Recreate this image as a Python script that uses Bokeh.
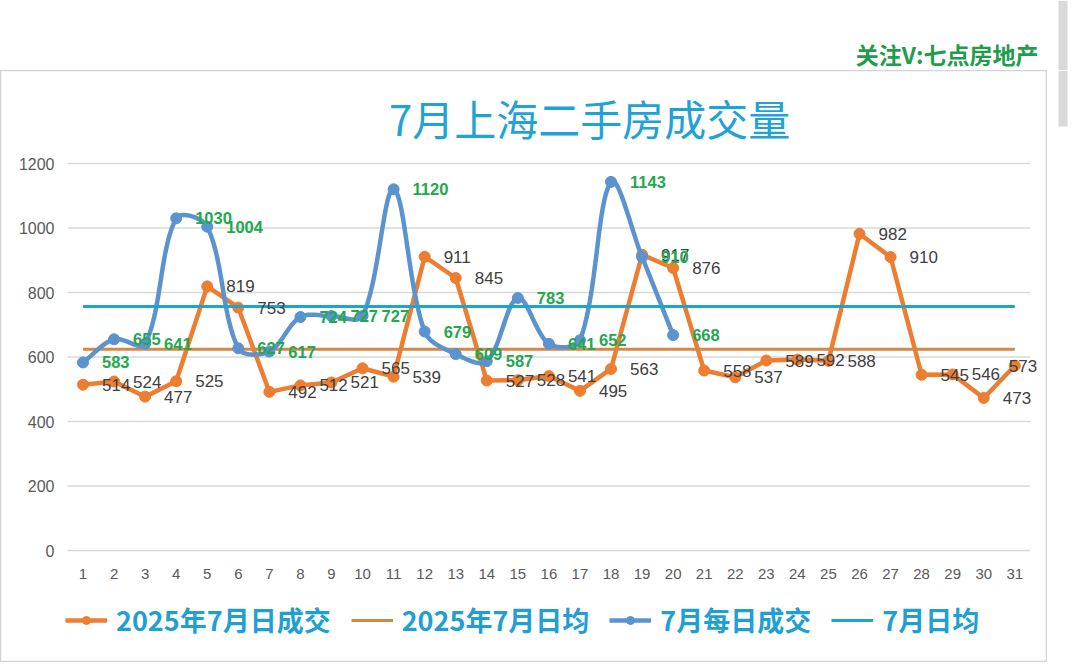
import numpy as np
from bokeh.plotting import figure
from bokeh.layouts import column, row
from bokeh.models import (ColumnDataSource, Range1d, FixedTicker, LabelSet, Label,
                          Legend, LegendItem)
from bokeh.core.properties import value
from bokeh.embed import file_html
from bokeh.resources import INLINE

# ---------------- data ----------------
days_2025 = list(range(1, 32))
sales_2025 = [514, 524, 477, 525, 819, 753, 492, 512, 521, 565, 539, 911, 845, 527, 528,
              541, 495, 563, 917, 876, 558, 537, 589, 592, 588, 982, 910, 545, 546, 473, 573]
days_july = list(range(1, 21))
sales_july = [583, 655, 641, 1030, 1004, 627, 617, 724, 727, 727, 1120, 679, 609, 587, 783,
              641, 652, 1143, 910, 668]
x_ticks = list(range(1, 32))
y_ticks = [0, 200, 400, 600, 800, 1000, 1200]

title_text = "7月上海二手房成交量"
watermark_text = "关注V:七点房地产"
legend_labels = ["2025年7月日成交", "2025年7月日均", "7月每日成交", "7月日均"]

# ---------------- colours ----------------
C_ORANGE = "#ed7d31"
C_ORANGE_AVG = "#d68744"
C_BLUE = "#5b93cf"
C_CYAN = "#1ba7cc"
C_GREEN = "#22a84f"
C_GREY_LBL = "#404040"
C_AXIS = "#595959"
C_TITLE = "#1fa3d5"
C_LEGEND = "#1f9fd2"
C_GRID = "#d9d9d9"
C_BORDER = "#d4d4d4"
C_SCROLL = "#d9d9d9"

# ---------------- geometry (pixels) ----------------
HEAD_H = 70                 # header strip (watermark) height
MAIN_W, MAIN_H = 1047, 592  # bordered chart box
SIDE_W = 25
PX_PER_DAY = 31.06
PX_PER_UNIT = 387.0 / 1200.0
DAY1_SX = 82.5              # screen x of the first category inside the box
ZERO_SY = 480.0             # screen y (from box top) of value 0
LABEL_DX = 19               # data-label gap to the right of a point

X_LO = x_ticks[0] - DAY1_SX / PX_PER_DAY
X_HI = X_LO + MAIN_W / PX_PER_DAY
Y_HI = ZERO_SY / PX_PER_UNIT
Y_LO = -(MAIN_H - ZERO_SY) / PX_PER_UNIT


def smooth(xs, ys, sx_scale, sy_scale, n=30):
    """Spreadsheet-like smoothed line: cubic Bezier, chord-length weighted tangents."""
    P = np.column_stack([np.asarray(xs, float), np.asarray(ys, float)])
    S = P * np.array([sx_scale, sy_scale])
    out = []
    m = len(P)
    for i in range(m - 1):
        i0 = max(i - 1, 0)
        i3 = min(i + 2, m - 1)
        d01 = np.linalg.norm(S[i] - S[i0])
        d12 = np.linalg.norm(S[i + 1] - S[i])
        d23 = np.linalg.norm(S[i3] - S[i + 1])
        f1 = d12 / (d01 + d12) if (d01 + d12) > 0 else 0.5
        f2 = d12 / (d12 + d23) if (d12 + d23) > 0 else 0.5
        c1 = P[i] + (P[i + 1] - P[i0]) * f1 / 3.0
        c2 = P[i + 1] - (P[i3] - P[i]) * f2 / 3.0
        t = np.linspace(0, 1, n, endpoint=(i == m - 2))[:, None]
        seg = ((1 - t) ** 3 * P[i] + 3 * (1 - t) ** 2 * t * c1
               + 3 * (1 - t) * t ** 2 * c2 + t ** 3 * P[i + 1])
        out.append(seg)
    arr = np.vstack(out)
    return arr[:, 0], arr[:, 1]


# ================= header (watermark + scrollbar) =================
head = figure(width=MAIN_W + SIDE_W, height=HEAD_H, output_backend="svg", toolbar_location=None,
              x_range=Range1d(0, MAIN_W + SIDE_W), y_range=Range1d(HEAD_H, 0),
              min_border=0)
head.axis.visible = False
head.grid.visible = False
head.outline_line_color = None
head.add_layout(Label(x=1038, y=53, text=watermark_text, text_align="right", text_baseline="middle",
                      text_font="Noto Sans CJK SC", text_font_size="23px", text_font_style="bold",
                      text_color="#1f9c4c"))
head.quad(left=[1058], right=[1067], top=[0], bottom=[HEAD_H], fill_color=C_SCROLL, line_color=None)

# ================= side strip (rest of scrollbar) =================
side = figure(width=SIDE_W, height=MAIN_H, output_backend="svg", toolbar_location=None,
              x_range=Range1d(0, SIDE_W), y_range=Range1d(MAIN_H, 0), min_border=0)
side.axis.visible = False
side.grid.visible = False
side.outline_line_color = None
side.quad(left=[11], right=[20], top=[0], bottom=[56], fill_color=C_SCROLL, line_color=None)

# ================= main chart (frame = whole bordered box) =================
p = figure(width=MAIN_W, height=MAIN_H, output_backend="svg", toolbar_location=None,
           x_range=Range1d(X_LO, X_HI), y_range=Range1d(Y_LO, Y_HI), min_border=0)
p.outline_line_color = C_BORDER
p.outline_line_width = 1.5
p.background_fill_color = "white"
p.border_fill_color = "white"

p.xaxis.ticker = FixedTicker(ticks=x_ticks)
p.yaxis.ticker = FixedTicker(ticks=y_ticks)
p.xaxis.fixed_location = y_ticks[0]
p.yaxis.fixed_location = x_ticks[0] - 0.5
for ax in (p.xaxis, p.yaxis):
    ax.axis_line_color = None
    ax.major_tick_line_color = None
    ax.minor_tick_line_color = None
    ax.major_label_text_font = "Liberation Sans"
    ax.major_label_text_color = C_AXIS
p.xaxis.major_label_text_font_size = "15px"
p.yaxis.major_label_text_font_size = "16px"
p.xaxis.major_label_standoff = 12
p.yaxis.major_label_standoff = 7
p.grid.visible = False

# horizontal gridlines over the category span
p.segment(x0=[x_ticks[0] - 0.5] * len(y_ticks), x1=[x_ticks[-1] + 0.5] * len(y_ticks),
          y0=y_ticks, y1=y_ticks, line_color=C_GRID, line_width=1.5)

# series 1: 2025 daily (straight)
dx25 = [LABEL_DX] * len(days_2025)
dx25[-1] = -6         # last label is pulled back inside the box
src25 = ColumnDataSource(dict(x=days_2025, y=sales_2025, t=[str(v) for v in sales_2025], dx=dx25))
l1 = p.line("x", "y", source=src25, line_color=C_ORANGE, line_width=4.5)
s1 = p.scatter("x", "y", source=src25, size=11, fill_color=C_ORANGE, line_color=C_ORANGE)

# series 2: 2025 average
avg_2025 = float(np.mean(sales_2025))
l2 = p.line([days_2025[0], days_2025[-1]], [avg_2025, avg_2025], line_color=C_ORANGE_AVG, line_width=3)

# series 3: July daily (smoothed)
bx, by = smooth(days_july, sales_july, PX_PER_DAY, PX_PER_UNIT)
l3 = p.line(bx, by, line_color=C_BLUE, line_width=4.5)
srcjl = ColumnDataSource(dict(x=days_july, y=sales_july, t=[str(v) for v in sales_july]))
s3 = p.scatter("x", "y", source=srcjl, size=11, fill_color=C_BLUE, line_color=C_BLUE)

# series 4: July average
avg_july = float(np.mean(sales_july))
l4 = p.line([days_2025[0], days_2025[-1]], [avg_july, avg_july], line_color=C_CYAN, line_width=3)

# data labels
p.add_layout(LabelSet(x="x", y="y", text="t", source=src25, x_offset="dx", y_offset=0,
                      text_align="left", text_baseline="middle",
                      text_font=value("Liberation Sans"), text_font_size=value("17px"),
                      text_color=C_GREY_LBL))
p.add_layout(LabelSet(x="x", y="y", text="t", source=srcjl, x_offset=LABEL_DX, y_offset=0,
                      text_align="left", text_baseline="middle",
                      text_font=value("Liberation Sans"), text_font_size=value("16.5px"),
                      text_font_style="bold", text_color=C_GREEN))

# title
p.add_layout(Label(x=17.31, y=1343, text=title_text, text_align="center", text_baseline="middle",
                   text_font="Noto Sans CJK SC", text_font_size="42px", text_color=C_TITLE))

# legend (inside the box, under the axis)
legend = Legend(items=[LegendItem(label=legend_labels[0], renderers=[l1, s1]),
                       LegendItem(label=legend_labels[1], renderers=[l2]),
                       LegendItem(label=legend_labels[2], renderers=[l3, s3]),
                       LegendItem(label=legend_labels[3], renderers=[l4])],
                location=(65, 23), orientation="horizontal",
                glyph_width=42, glyph_height=20, label_standoff=9, spacing=20,
                padding=0, margin=0, border_line_color=None, background_fill_alpha=0,
                label_text_font="Noto Sans CJK SC", label_text_font_size="27px",
                label_text_font_style="bold", label_text_color=C_LEGEND)
p.add_layout(legend)

layout = column(head, row(p, side))
open("out.html", "w").write(file_html(layout, INLINE))
